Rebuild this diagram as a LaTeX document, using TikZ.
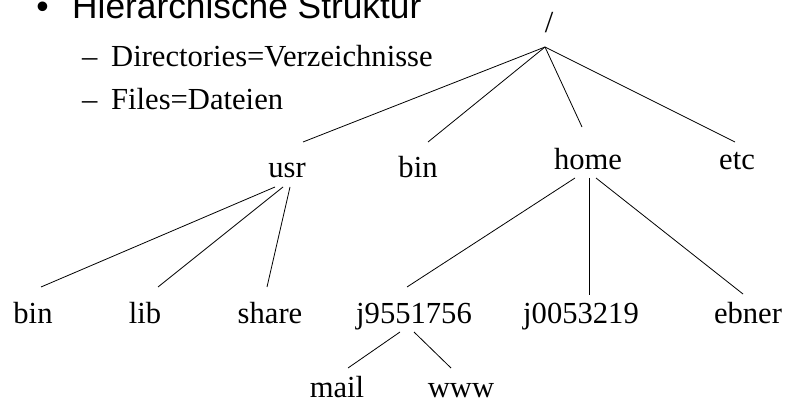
\documentclass[tikz,border=0pt]{standalone}
\usepackage{fontspec}
\setmainfont{Liberation Serif}
\newfontfamily\headfont{Liberation Sans}
\begin{document}
\begin{tikzpicture}[x=1pt,y=-1pt,
  lbl/.style={anchor=base,inner sep=0pt,font=\fontsize{30.6}{36}\selectfont},
  item/.style={anchor=base west,inner sep=0pt,font=\fontsize{30.6}{36}\selectfont},
  head/.style={anchor=base west,inner sep=0pt,font=\headfont\fontsize{35.3}{40}\selectfont},
  edge/.style={line width=0.8pt}]
\useasboundingbox (0,0) rectangle (787,398);

% heading and bullet list
\node[head,anchor=base] (bullet) at (42.5,18.5) {•};
\node[head] (title) at (72,18.5) {Hierarchische Struktur};
\node[item] (dash1) at (82,67) {–};
\node[item] (dirs) at (111,67) {Directories=Verzeichnisse};
\node[item] (dash2) at (82,110) {–};
\node[item] (files) at (111,110) {Files=Dateien};

% directory tree
\node[lbl] (root) at (549,33) {/};
\node[lbl] (usr) at (287,178) {usr};
\node[lbl] (bin) at (418,178) {bin};
\node[lbl] (home) at (588,170) {home};
\node[lbl] (etc) at (737,170) {etc};
\node[lbl] (ubin) at (33,323) {bin};
\node[lbl] (lib) at (145,323) {lib};
\node[lbl] (share) at (270,323) {share};
\node[lbl] (j95) at (414,323) {j9551756};
\node[lbl] (j00) at (581,323) {j0053219};
\node[lbl] (ebner) at (748,323) {ebner};
\node[lbl] (mail) at (337,397) {mail};
\node[lbl] (www) at (461,397) {www};

% connectors
\coordinate (hub) at ([shift={(-4,14)}]root.base);
\draw[edge] (hub) -- ([shift={(16,-36)}]usr.base);
\draw[edge] (hub) -- ([shift={(10,-36)}]bin.base);
\draw[edge] (hub) -- ([shift={(-6,-43)}]home.base);
\draw[edge] (hub) -- ([shift={(-2,-28)}]etc.base);

\draw[edge] ([shift={(-12,9)}]usr.base) -- ([shift={(8,-36)}]ubin.base);
\draw[edge] ([shift={(-4,9)}]usr.base) -- ([shift={(13,-36)}]lib.base);
\draw[edge] ([shift={(3,9)}]usr.base) -- ([shift={(-3,-36)}]share.base);

\draw[edge] ([shift={(-13,8)}]home.base) -- ([shift={(-7,-36)}]j95.base);
\draw[edge] ([shift={(1,8)}]home.base) -- ([shift={(8,-28)}]j00.base);
\draw[edge] ([shift={(8,8)}]home.base) -- ([shift={(-5,-29)}]ebner.base);

\draw[edge] ([shift={(-14,9)}]j95.base) -- ([shift={(11,-29)}]mail.base);
\draw[edge] ([shift={(0,9)}]j95.base) -- ([shift={(-10,-29)}]www.base);
\end{tikzpicture}
\end{document}
